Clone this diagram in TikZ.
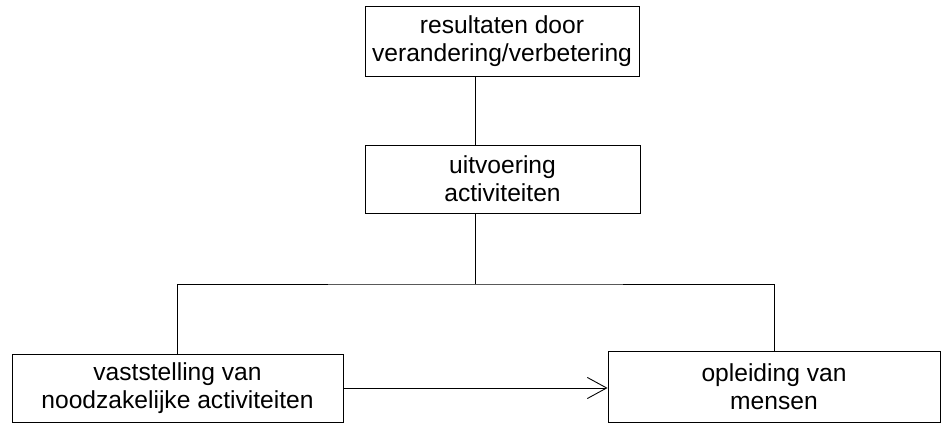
\documentclass[tikz,border=0pt]{standalone}
\usepackage{fontspec}
\setmainfont{Liberation Sans}
\usetikzlibrary{arrows.meta}

\begin{document}
\begin{tikzpicture}[
    box/.style={draw, line width=0.5pt, rectangle, align=center, inner sep=0pt,
      font=\fontsize{14}{16}\selectfont},
    link/.style={line width=0.5pt}]
          \useasboundingbox (0,0) rectangle (18.94, 8.5);
          \node[box, minimum width=5.48cm, minimum height=1.4cm] (result) at (10.04, 7.68)
            {resultaten door\\verandering/verbetering};
          \node[box, minimum width=5.5cm, minimum height=1.36cm] (uitvoering) at (10.05, 4.92)
            {uitvoering\\activiteiten};
          \node[box, minimum width=6.62cm, minimum height=1.36cm] (vaststelling) at (3.55, 0.74)
            {vaststelling van\\noodzakelijke activiteiten};
          \node[box, minimum width=6.64cm, minimum height=1.42cm] (opleiding) at (15.48, 0.77)
            {opleiding van\\mensen};
          \coordinate (split) at (9.5, 2.82);
        \draw[link] (result.south -| split) -- (uitvoering.north -| split);
        \draw[link] (uitvoering.south -| split) -- (split);
        \draw[link] (vaststelling.north) |- (split) -| (opleiding.north);
        \draw[link, -{Straight Barb[length=11pt, width=12pt]}] (vaststelling.east) -- (vaststelling.east -| opleiding.west);
    \end{tikzpicture}
\end{document}
